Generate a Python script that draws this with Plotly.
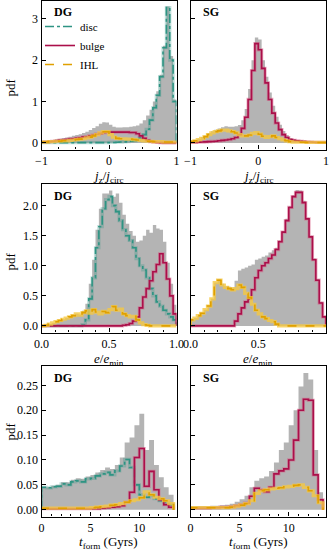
import numpy as np
import plotly.graph_objects as go
from plotly.subplots import make_subplots

# ---- data (pdf per bin) ----
# row 1: jz/jcirc, 40 bins on [-1, 1]
jz_dg_all = [0.05, 0.05, 0.06, 0.07, 0.09, 0.10, 0.12, 0.13, 0.15, 0.17,
             0.19, 0.21, 0.24, 0.27, 0.31, 0.36, 0.40, 0.46, 0.50, 0.49,
             0.44, 0.39, 0.37, 0.37, 0.38, 0.38, 0.39, 0.40, 0.42, 0.47,
             0.55, 0.66, 0.80, 1.00, 1.25, 1.65, 2.35, 3.30, 2.10, 1.05]
jz_dg_disc = [0.005, 0.005, 0.005, 0.005, 0.005, 0.005, 0.005, 0.005, 0.005, 0.005,
              0.005, 0.005, 0.005, 0.005, 0.005, 0.005, 0.005, 0.005, 0.005, 0.005,
              0.01, 0.01, 0.015, 0.02, 0.025, 0.03, 0.04, 0.05, 0.07, 0.12,
              0.20, 0.33, 0.55, 0.85, 1.15, 1.60, 2.30, 3.27, 2.00, 1.00]
jz_dg_bulge = [0.02, 0.025, 0.03, 0.04, 0.05, 0.06, 0.07, 0.08, 0.09, 0.10,
               0.11, 0.12, 0.14, 0.15, 0.17, 0.19, 0.21, 0.23, 0.25, 0.26,
               0.26, 0.26, 0.26, 0.26, 0.26, 0.26, 0.25, 0.25, 0.22, 0.17,
               0.11, 0.06, 0.03, 0.02, 0.01, 0.005, 0.0, 0.0, 0.0, 0.0]
jz_dg_ihl = [0.02, 0.02, 0.03, 0.03, 0.04, 0.04, 0.05, 0.05, 0.06, 0.07,
             0.08, 0.09, 0.10, 0.12, 0.14, 0.17, 0.20, 0.24, 0.27, 0.27,
             0.20, 0.14, 0.11, 0.10, 0.10, 0.09, 0.09, 0.08, 0.07, 0.06,
             0.05, 0.04, 0.04, 0.03, 0.03, 0.03, 0.02, 0.02, 0.02, 0.02]
jz_sg_all = [0.05, 0.07, 0.10, 0.14, 0.18, 0.24, 0.28, 0.32, 0.35, 0.38,
             0.40, 0.39, 0.39, 0.40, 0.43, 0.55, 0.82, 1.30, 2.00, 2.55,
             2.50, 2.00, 1.60, 1.22, 0.90, 0.63, 0.44, 0.29, 0.19, 0.12,
             0.09, 0.07, 0.06, 0.05, 0.04, 0.035, 0.03, 0.025, 0.02, 0.02]
jz_sg_bulge = [0.01, 0.01, 0.015, 0.02, 0.025, 0.03, 0.035, 0.04, 0.05, 0.06,
               0.07, 0.08, 0.10, 0.13, 0.20, 0.35, 0.62, 1.05, 1.75, 2.40,
               2.25, 1.80, 1.45, 1.05, 0.72, 0.48, 0.32, 0.20, 0.13, 0.08,
               0.06, 0.05, 0.04, 0.03, 0.025, 0.02, 0.015, 0.01, 0.01, 0.01]
jz_sg_ihl = [0.03, 0.05, 0.08, 0.11, 0.15, 0.20, 0.24, 0.27, 0.29, 0.31,
             0.31, 0.29, 0.27, 0.24, 0.20, 0.17, 0.17, 0.19, 0.23, 0.25,
             0.21, 0.16, 0.13, 0.15, 0.17, 0.13, 0.10, 0.07, 0.05, 0.03,
             0.02, 0.02, 0.015, 0.015, 0.01, 0.01, 0.01, 0.01, 0.01, 0.01]

# row 2: e/emin, 40 bins on [0, 1]
e_dg_all = [0.0, 0.01, 0.03, 0.05, 0.07, 0.09, 0.11, 0.13, 0.15, 0.17,
            0.20, 0.19, 0.25, 0.37, 0.70, 1.10, 1.60, 1.95, 2.20, 2.20,
            2.25, 2.15, 2.20, 2.05, 1.85, 1.70, 1.58, 1.50, 1.40, 1.42,
            1.50, 1.60, 1.55, 1.68, 1.62, 1.60, 1.40, 1.05, 0.70, 0.35]
e_dg_disc = [0.0, 0.0, 0.0, 0.0, 0.0, 0.0, 0.0, 0.0, 0.0, 0.0,
             0.0, 0.0, 0.02, 0.10, 0.45, 0.80, 1.30, 1.65, 1.95, 2.10,
             2.15, 2.00, 1.90, 1.75, 1.60, 1.50, 1.42, 1.30, 1.12, 1.00,
             0.93, 0.80, 0.62, 0.50, 0.40, 0.33, 0.26, 0.20, 0.15, 0.10]
e_dg_bulge = [0.0, 0.0, 0.0, 0.0, 0.0, 0.0, 0.0, 0.0, 0.0, 0.0,
              0.0, 0.0, 0.0, 0.0, 0.0, 0.0, 0.0, 0.0, 0.0, 0.0,
              0.0, 0.0, 0.0, 0.0, 0.01, 0.02, 0.04, 0.08, 0.15, 0.30,
              0.48, 0.62, 0.75, 0.90, 1.02, 1.20, 1.05, 0.78, 0.50, 0.20]
e_dg_ihl = [0.0, 0.01, 0.03, 0.05, 0.07, 0.09, 0.11, 0.13, 0.15, 0.17,
            0.20, 0.18, 0.22, 0.25, 0.21, 0.27, 0.23, 0.20, 0.24, 0.22,
            0.27, 0.32, 0.26, 0.28, 0.20, 0.17, 0.15, 0.16, 0.10, 0.05,
            0.02, 0.01, 0.0, 0.0, 0.0, 0.0, 0.0, 0.0, 0.0, 0.0]
e_sg_all = [0.10, 0.13, 0.17, 0.21, 0.27, 0.33, 0.45, 0.72, 0.78, 0.70,
            0.66, 0.65, 0.64, 0.75, 0.92, 0.95, 0.97, 1.00, 1.02, 1.10,
            1.12, 1.15, 1.17, 1.22, 1.26, 1.30, 1.42, 1.58, 1.78, 1.99,
            2.17, 2.26, 2.25, 2.08, 1.80, 1.50, 1.12, 0.78, 0.40, 0.17]
e_sg_bulge = [0.0, 0.0, 0.0, 0.0, 0.0, 0.0, 0.0, 0.0, 0.0, 0.0,
              0.0, 0.0, 0.0, 0.08, 0.20, 0.30, 0.40, 0.45, 0.60, 0.80,
              0.92, 1.00, 1.05, 1.12, 1.18, 1.27, 1.40, 1.56, 1.75, 1.97,
              2.15, 2.22, 2.22, 2.05, 1.78, 1.48, 1.10, 0.76, 0.38, 0.15]
e_sg_ihl = [0.10, 0.13, 0.17, 0.21, 0.27, 0.33, 0.45, 0.72, 0.76, 0.68,
            0.64, 0.62, 0.60, 0.62, 0.68, 0.64, 0.54, 0.47, 0.36, 0.26,
            0.20, 0.15, 0.12, 0.09, 0.07, 0.03, 0.0, 0.0, 0.0, 0.0,
            0.0, 0.0, 0.0, 0.0, 0.0, 0.0, 0.0, 0.0, 0.0, 0.0]

# row 3: t_form (Gyrs), 27 bins on [0, 13.5]
t_dg_all = [0.045, 0.045, 0.048, 0.050, 0.055, 0.055, 0.060, 0.063, 0.062, 0.067,
            0.070, 0.075, 0.080, 0.085, 0.082, 0.090, 0.105, 0.135, 0.145, 0.170,
            0.193, 0.120, 0.140, 0.090, 0.065, 0.045, 0.030]
t_dg_disc = [0.045, 0.044, 0.046, 0.047, 0.052, 0.050, 0.056, 0.058, 0.056, 0.062,
             0.063, 0.068, 0.072, 0.075, 0.070, 0.078, 0.088, 0.101, 0.085, 0.050,
             0.030, 0.025, 0.028, 0.022, 0.018, 0.014, 0.010]
t_dg_bulge = [0.002, 0.002, 0.002, 0.002, 0.002, 0.002, 0.002, 0.002, 0.002, 0.002,
              0.002, 0.002, 0.003, 0.004, 0.005, 0.006, 0.008, 0.015, 0.035, 0.105,
              0.123, 0.047, 0.077, 0.040, 0.020, 0.010, 0.005]
t_dg_ihl = [0.003, 0.003, 0.003, 0.003, 0.003, 0.003, 0.003, 0.003, 0.003, 0.003,
            0.004, 0.005, 0.006, 0.007, 0.009, 0.010, 0.012, 0.015, 0.018, 0.020,
            0.024, 0.036, 0.030, 0.025, 0.022, 0.018, 0.012]
t_sg_all = [0.007, 0.007, 0.007, 0.007, 0.008, 0.008, 0.009, 0.010, 0.012, 0.016,
            0.021, 0.028, 0.045, 0.058, 0.063, 0.067, 0.078, 0.095, 0.120, 0.135,
            0.170, 0.200, 0.248, 0.275, 0.262, 0.120, 0.035]
t_sg_bulge = [0.003, 0.003, 0.003, 0.003, 0.004, 0.004, 0.005, 0.005, 0.006, 0.008,
              0.010, 0.013, 0.027, 0.043, 0.040, 0.036, 0.045, 0.072, 0.078, 0.082,
              0.100, 0.140, 0.200, 0.222, 0.220, 0.070, 0.020]
t_sg_ihl = [0.004, 0.004, 0.004, 0.004, 0.004, 0.004, 0.004, 0.004, 0.005, 0.007,
            0.009, 0.012, 0.018, 0.033, 0.038, 0.040, 0.042, 0.043, 0.044, 0.046,
            0.047, 0.049, 0.050, 0.045, 0.038, 0.028, 0.014]

FONT = "Liberation Serif"
GRAY = "#b4b4b4"
STYLES = {
    "disc": dict(color="#2e9483", halo="rgba(46,148,131,0.30)", dash="dashdot"),
    "bulge": dict(color="#ab0f4a", halo="rgba(214,90,130,0.50)", dash="solid"),
    "IHL": dict(color="#e0a000", halo="rgba(245,200,66,0.80)", dash="dash"),
}

W, H = 332, 550
xdom = [(41.5, 176.5), (190.5, 326.0)]
ydom = [(1.0, 149.5), (184.0, 332.5), (366.0, 516.5)]

rows = [
    dict(lo=-1, hi=1, n=40, xr=[-1, 1], yr=[-0.16, 3.43], xd=1, xm=0.25, yd=1, yf="d", xf="d",
         title="<i>j</i><sub>z</sub>/<i>j</i><sub>circ</sub>", tity=176, pdfy=88),
    dict(lo=0, hi=1, n=40, xr=[0, 1], yr=[-0.11, 2.36], xd=0.5, xm=0.1, yd=0.5, yf=".1f", xf=".1f",
         title="<i>e</i>/<i>e</i><sub>min</sub>", tity=359, pdfy=262),
    dict(lo=0, hi=13.5, n=27, xr=[0, 13.8], yr=[-0.0137, 0.289], xd=5, xm=1, yd=0.05, yf=".2f", xf="d",
         title="<i>t</i><sub>form</sub> (Gyrs)", tity=542, pdfy=432),
]

panels = [
    (0, 0, "DG", jz_dg_all, {"disc": jz_dg_disc, "bulge": jz_dg_bulge, "IHL": jz_dg_ihl}),
    (0, 1, "SG", jz_sg_all, {"bulge": jz_sg_bulge, "IHL": jz_sg_ihl}),
    (1, 0, "DG", e_dg_all, {"disc": e_dg_disc, "bulge": e_dg_bulge, "IHL": e_dg_ihl}),
    (1, 1, "SG", e_sg_all, {"bulge": e_sg_bulge, "IHL": e_sg_ihl}),
    (2, 0, "DG", t_dg_all, {"disc": t_dg_disc, "bulge": t_dg_bulge, "IHL": t_dg_ihl}),
    (2, 1, "SG", t_sg_all, {"bulge": t_sg_bulge, "IHL": t_sg_ihl}),
]


def step_xy(edges, vals):
    x = [edges[0]] + list(edges[:-1]) + [edges[-1]]
    y = [0] + list(vals) + [0]
    return x, y


fig = make_subplots(rows=3, cols=2)
annotations = []

for r, c, tag, gray, comps in panels:
    spec = rows[r]
    edges = np.linspace(spec["lo"], spec["hi"], spec["n"] + 1)
    gx, gy = step_xy(edges, gray)
    fig.add_trace(go.Scatter(x=gx, y=gy, mode="lines", line=dict(width=0, shape="hv"), fill="tozeroy",
                             fillcolor=GRAY, showlegend=False, hoverinfo="skip"), row=r + 1, col=c + 1)
    for name, vals in comps.items():
        st = STYLES[name]
        sx, sy = step_xy(edges, vals)
        fig.add_trace(go.Scatter(x=sx, y=sy, mode="lines", line=dict(color=st["halo"], width=3.2, shape="hv"),
                                 showlegend=False, hoverinfo="skip"), row=r + 1, col=c + 1)
        fig.add_trace(go.Scatter(x=sx, y=sy, mode="lines", name=name,
                                 line=dict(color=st["color"], width=1.6, dash=st["dash"], shape="hv"),
                                 showlegend=(r == 0 and c == 0)), row=r + 1, col=c + 1)

    i = r * 2 + c + 1
    xa = "xaxis" if i == 1 else f"xaxis{i}"
    ya = "yaxis" if i == 1 else f"yaxis{i}"
    x0, x1 = xdom[c]
    y0, y1 = ydom[r]
    fig.layout[xa].update(
        domain=[x0 / W, x1 / W], range=spec["xr"], tick0=spec["lo"] if r == 0 else 0, dtick=spec["xd"],
        tickformat=spec["xf"], ticks="inside", ticklen=4, tickwidth=1, tickcolor="black",
        minor=dict(ticks="inside", dtick=spec["xm"], ticklen=2.5, tickcolor="black", tick0=0),
        showline=True, linecolor="black", linewidth=1.3, mirror=True, showgrid=False, zeroline=False,
        tickfont=dict(family=FONT, size=12, color="black"), automargin=False)
    fig.layout[ya].update(
        domain=[1 - y1 / H, 1 - y0 / H], range=spec["yr"], tick0=0, dtick=spec["yd"], tickformat=spec["yf"],
        ticks="inside", ticklen=4, tickwidth=1, tickcolor="black", showticklabels=(c == 0),
        showline=True, linecolor="black", linewidth=1.3, mirror=True, showgrid=False, zeroline=False,
        tickfont=dict(family=FONT, size=12, color="black"), automargin=False)

    annotations.append(dict(text="<b>" + tag + "</b>", x=(x0 + 10.5) / W, y=1 - (y0 + 11.5) / H,
                            xref="paper", yref="paper", xanchor="left", yanchor="middle", showarrow=False,
                            font=dict(family=FONT, size=12, color="black")))
    annotations.append(dict(text=spec["title"], x=(x0 + x1) / 2 / W, y=1 - spec["tity"] / H,
                            xref="paper", yref="paper", xanchor="center", yanchor="middle", showarrow=False,
                            font=dict(family=FONT, size=13, color="black")))
    if c == 0:
        annotations.append(dict(text="pdf", x=9.5 / W, y=1 - spec["pdfy"] / H, xref="paper", yref="paper",
                                xanchor="center", yanchor="middle", textangle=-90, showarrow=False,
                                font=dict(family=FONT, size=13, color="black")))

fig.update_layout(
    width=W, height=H, margin=dict(l=0, r=0, t=0, b=0),
    template="none", paper_bgcolor="white", plot_bgcolor="white",
    annotations=annotations,
    font=dict(family=FONT, size=12, color="black"),
    legend=dict(x=40 / W, y=1 - 12 / H, xanchor="left", yanchor="top", bgcolor="rgba(0,0,0,0)",
                font=dict(family=FONT, size=11, color="black"), tracegroupgap=0, itemwidth=30),
)

# the page body has a default 8px margin; drop it so the figure sits at the window's corner
fig.write_html("out.html", config={"displayModeBar": False},
               post_script="document.body.style.margin='0';")
